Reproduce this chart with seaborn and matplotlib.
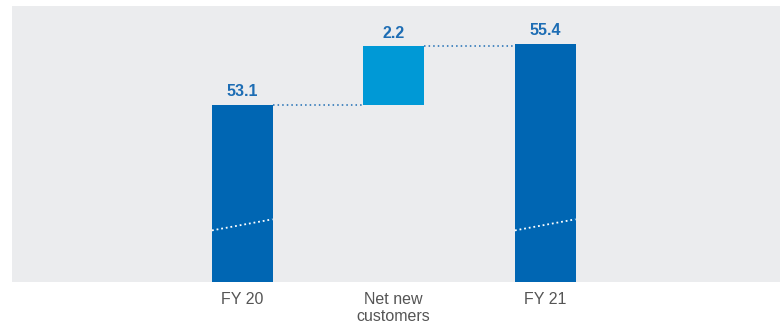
import matplotlib
matplotlib.use("Agg")
import matplotlib.pyplot as plt
import seaborn as sns
import numpy as np

categories = ["FY 20", "Net new\ncustomers", "FY 21"]
values = [53.1, 2.2, 55.4]
bases = [0.0, 53.1, 0.0]
labels = ["53.1", "2.2", "55.4"]

dark_blue = "#0066b3"
light_blue = "#0099d6"
bg = "#ebecee"
text_blue = "#1d6db4"

sns.set_theme(style="white")
plt.rcParams["font.family"] = ["Liberation Sans", "DejaVu Sans"]

fig = plt.figure(figsize=(7.8, 3.24), dpi=100)
ax = fig.add_axes([12 / 780, 42 / 324, 768 / 780, 276 / 324])
ax.set_facecolor(bg)

bar_w = 0.4
sns.barplot(x=categories, y=values, bottom=bases, width=bar_w, color=dark_blue,
            saturation=1, ax=ax, linewidth=0)
colors = [dark_blue, light_blue, dark_blue]
for p, c in zip(ax.patches, colors):
    p.set_facecolor(c)

# value labels
tops = [b + v for b, v in zip(bases, values)]
for i, (t, lab) in enumerate(zip(tops, labels)):
    ax.text(i, t + 0.22, lab, ha="center", va="bottom", color=text_blue,
            fontsize=11.5, fontweight="bold")

# dotted connectors
for i in range(len(values) - 1):
    ax.plot([i + bar_w / 2, i + 1 - bar_w / 2], [tops[i], tops[i]],
            linestyle=(0, (1, 2)), color=text_blue, lw=1.1)

# axis break marks on total bars
brk = 48.35
for i in (0, 2):
    ax.plot([i - bar_w / 2, i + bar_w / 2], [brk, brk + 0.42],
            linestyle=(0, (1, 1.6)), color="white", lw=1.3)

ax.set_ylim(46.4, 56.83)
ax.set_xlim(-1.52, 3.55)
ax.set_yticks([])
ax.tick_params(axis="x", length=0, pad=7, labelsize=11.5, labelcolor="#555555")
for s in ax.spines.values():
    s.set_visible(False)
ax.set_xlabel("")
ax.set_ylabel("")

fig.savefig("out.png", dpi=100, facecolor="white")
